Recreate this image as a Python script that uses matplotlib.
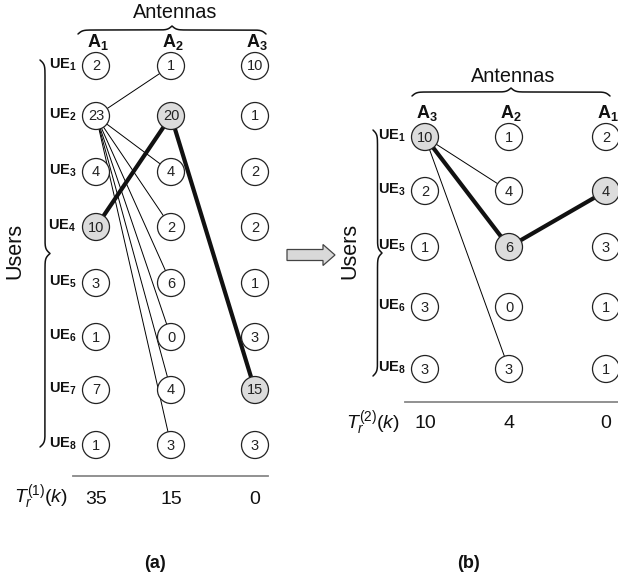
import numpy as np
import matplotlib
matplotlib.use('Agg')
import matplotlib.pyplot as plt
from matplotlib import patches

plt.rcParams['font.family'] = ['Liberation Sans', 'DejaVu Sans']
plt.rcParams['mathtext.fontset'] = 'custom'
plt.rcParams['mathtext.rm'] = 'Liberation Sans'
plt.rcParams['mathtext.it'] = 'Liberation Sans:italic'
plt.rcParams['mathtext.bf'] = 'Liberation Sans:bold'

# ---- data -------------------------------------------------------------
# panel (a): users UE1..UE8, antennas A1, A2, A3
users_a = ['1', '2', '3', '4', '5', '6', '7', '8']
antennas_a = ['1', '2', '3']
values_a = [[2, 1, 10],
            [23, 20, 1],
            [4, 4, 2],
            [10, 2, 2],
            [3, 6, 1],
            [1, 0, 3],
            [7, 4, 15],
            [1, 3, 3]]
# edges as ((row, col), (row, col))
thin_a = [((1, 0), (r, 1)) for r in [0, 2, 3, 4, 5, 6, 7]]
thick_a = [((3, 0), (1, 1)), ((1, 1), (6, 2))]
shaded_a = [(1, 1), (3, 0), (6, 2)]
totals_a = [35, 15, 0]

# panel (b): users UE1, UE3, UE5, UE6, UE8, antennas A3, A2, A1
users_b = ['1', '3', '5', '6', '8']
antennas_b = ['3', '2', '1']
values_b = [[10, 1, 2],
            [2, 4, 4],
            [1, 6, 3],
            [3, 0, 1],
            [3, 3, 1]]
thin_b = [((0, 0), (1, 1)), ((0, 0), (4, 1))]
thick_b = [((0, 0), (2, 1)), ((2, 1), (1, 2))]
shaded_b = [(0, 0), (2, 1), (1, 2)]
totals_b = [10, 4, 0]

# ---- layout (pixels) --------------------------------------------------
col_a = [96, 171, 255]
row_a = [66, 116, 172, 227, 283, 337, 390, 445]
col_b = [425, 509, 606]
row_b = [137, 191, 247, 307, 369]
R = 13.5


def brace(ax, start, end, width, beta=0.45, n=300):
    start = np.array(start, float)
    end = np.array(end, float)
    L = np.hypot(*(end - start))
    d = (end - start) / L
    nrm = np.array([d[1], -d[0]])
    s = np.linspace(0, L / 2, n)
    half = 1 / (1 + np.exp(-beta * (s - s[0]))) + 1 / (1 + np.exp(-beta * (s - s[-1])))
    prof = np.concatenate([half, half[::-1]]) - 0.5
    t = np.concatenate([s, s + L / 2])
    pts = start + np.outer(t, d) + np.outer(prof * width, nrm)
    ax.plot(pts[:, 0], pts[:, 1], color='#111111', lw=1.1, solid_capstyle='round')


def panel(ax, users, ants, vals, cols, rows, thin, thick, shaded, totals):
    for (r0, c0), (r1, c1) in thin:
        ax.plot([cols[c0], cols[c1]], [rows[r0], rows[r1]], color='black', lw=0.7, zorder=1)
    for (r0, c0), (r1, c1) in thick:
        ax.plot([cols[c0], cols[c1]], [rows[r0], rows[r1]], color='#111111', lw=3.0,
                zorder=1, solid_capstyle='round')
    for i, row in enumerate(vals):
        for j, v in enumerate(row):
            fc = '#dcdcdc' if (i, j) in shaded else 'white'
            ax.add_patch(patches.Circle((cols[j], rows[i]), R, facecolor=fc,
                                        edgecolor='#222222', lw=0.9, zorder=2))
            ax.text(cols[j], rows[i] + 0.5, str(v), ha='center', va='center',
                    fontsize=10.5, color='#222222', zorder=3)
        ax.text(cols[0] - R - 6, rows[i] - 1, r'$\mathbf{UE}_\mathbf{%s}$' % users[i],
                ha='right', va='center', fontsize=10.5, color='#111111')
    for j, a in enumerate(ants):
        ax.text(cols[j] + 2, rows[0] - 24, r'$\mathbf{A}_\mathbf{%s}$' % a,
                ha='center', va='center', fontsize=13, color='#111111')
    for j, tv in enumerate(totals):
        ax.text(cols[j], rows[-1] + 54, str(tv), ha='center', va='center',
                fontsize=14, color='#111111')


fig = plt.figure(figsize=(6.18, 5.79), dpi=100)
ax = fig.add_axes([0, 0, 1, 1])
ax.set_xlim(0, 618)
ax.set_ylim(579, 0)
ax.axis('off')

panel(ax, users_a, antennas_a, values_a, col_a, row_a, thin_a, thick_a, shaded_a, totals_a)
panel(ax, users_b, antennas_b, values_b, col_b, row_b, thin_b, thick_b, shaded_b, totals_b)

# braces and group labels
brace(ax, (40, 60), (40, 447), 10)
brace(ax, (78, 34), (266, 34), 8)
brace(ax, (373, 130), (373, 376), 9)
brace(ax, (412, 96), (610, 96), 8)
ax.text(175, 13, 'Antennas', ha='center', va='center', fontsize=14.3, color='#111111')
ax.text(513, 77, 'Antennas', ha='center', va='center', fontsize=14.3, color='#111111')
ax.text(15, 251, 'Users', ha='center', va='center', rotation=90, fontsize=15.5, color='#111111')
ax.text(350, 251, 'Users', ha='center', va='center', rotation=90, fontsize=15.5, color='#111111')

# separator lines and totals labels
ax.plot([73, 268], [476, 476], color='#888888', lw=1.3)
ax.plot([405, 618], [402, 402], color='#888888', lw=1.3)
ax.text(68, 497, r'$T_r^{(1)}(k)$', ha='right', va='center', fontsize=14, color='#111111')
ax.text(400, 423, r'$T_r^{(2)}(k)$', ha='right', va='center', fontsize=14, color='#111111')

# arrow between panels
ax.add_patch(patches.FancyArrow(287, 255, 36, 0, width=11, head_width=21, head_length=12,
                                length_includes_head=False, facecolor='#d9d9d9',
                                edgecolor='#444444', lw=0.9))

ax.text(155, 563, '(a)', ha='center', va='center', fontsize=13, fontweight='bold', color='#111111')
ax.text(468, 563, '(b)', ha='center', va='center', fontsize=13, fontweight='bold', color='#111111')

fig.savefig('out.png', dpi=100)
